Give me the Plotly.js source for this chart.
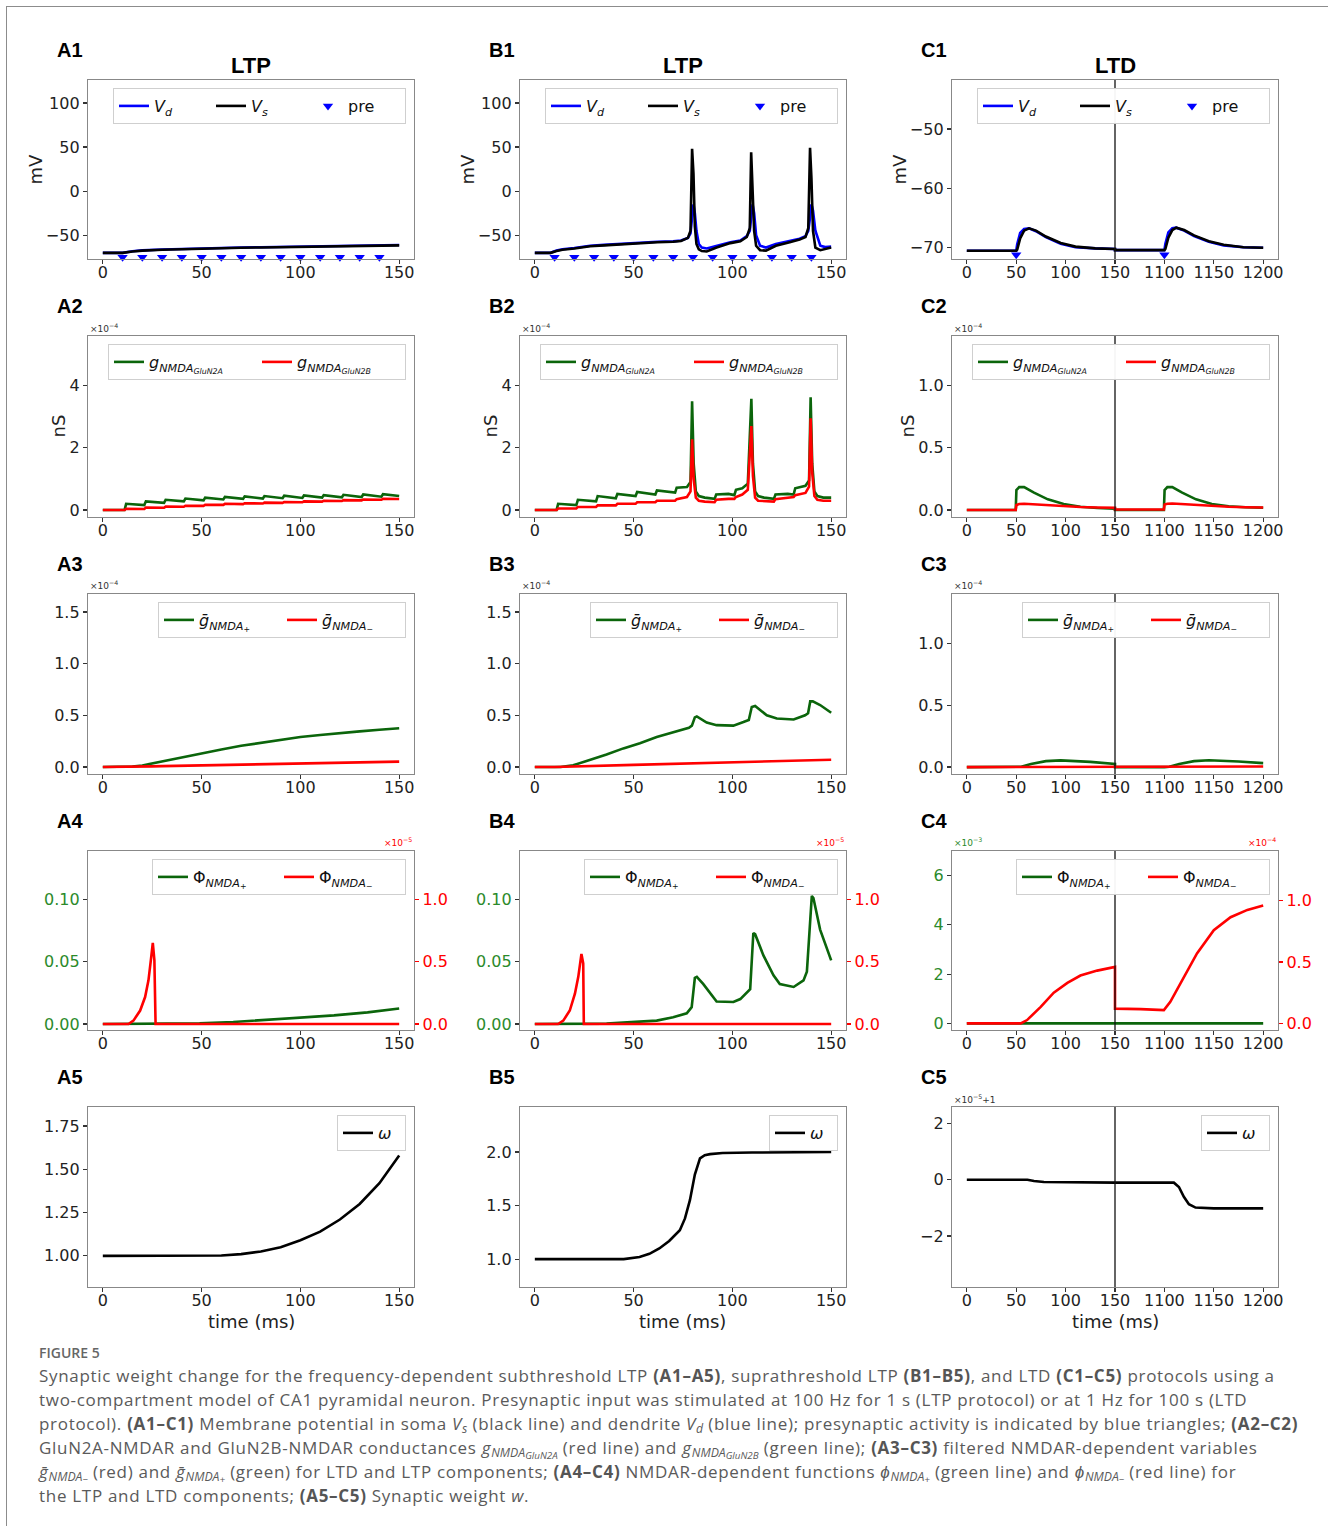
<!DOCTYPE html>
<html><head><meta charset="utf-8">
<script src="https://cdn.plot.ly/plotly-3.0.1.min.js"></script>
<style>
body{margin:0;background:#fff;}
#wrap{position:relative;width:1328px;height:1526px;overflow:hidden;background:#fff;}
#plot{position:absolute;left:0;top:0;width:1328px;height:1526px;}
#frame{position:absolute;left:6px;top:6px;width:1400px;height:1600px;border-top:1.5px solid #8c8c8c;border-left:1.5px solid #8c8c8c;pointer-events:none;}
#cap{position:absolute;left:39px;top:1342px;font-family:'Open Sans',sans-serif;color:#5a5a5a;font-size:17px;letter-spacing:0.7px;line-height:24px;white-space:nowrap;}
#cap .fig{font-size:14px;letter-spacing:0;font-weight:600;color:#666;line-height:22px;}
#cap .ln{height:24px;}
#cap b{font-weight:700;color:#555;}
#cap sub{font-size:72%;vertical-align:-0.22em;line-height:0;letter-spacing:0;}
#cap sub sub{font-size:80%;vertical-align:-0.2em;}
</style></head>
<body>
<div id="wrap">
<div id="plot"></div>
<div id="frame"></div>
<div id="cap">
<div class="fig">FIGURE 5</div>
<div class="ln">Synaptic weight change for the frequency-dependent subthreshold LTP <b>(A1–A5)</b>, suprathreshold LTP <b>(B1–B5)</b>, and LTD <b>(C1–C5)</b> protocols using a</div>
<div class="ln">two-compartment model of CA1 pyramidal neuron. Presynaptic input was stimulated at 100 Hz for 1 s (LTP protocol) or at 1 Hz for 100 s (LTD</div>
<div class="ln">protocol). <b>(A1–C1)</b> Membrane potential in soma <i>V<sub>s</sub></i> (black line) and dendrite <i>V<sub>d</sub></i> (blue line); presynaptic activity is indicated by blue triangles; <b>(A2–C2)</b></div>
<div class="ln">GluN2A-NMDAR and GluN2B-NMDAR conductances <i>g<sub>NMDA<sub>GluN2A</sub></sub></i> (red line) and <i>g<sub>NMDA<sub>GluN2B</sub></sub></i> (green line); <b>(A3–C3)</b> filtered NMDAR-dependent variables</div>
<div class="ln"><i>ḡ<sub>NMDA<sub>−</sub></sub></i> (red) and <i>ḡ<sub>NMDA<sub>+</sub></sub></i> (green) for LTD and LTP components; <b>(A4–C4)</b> NMDAR-dependent functions <i>ϕ<sub>NMDA<sub>+</sub></sub></i> (green line) and <i>ϕ<sub>NMDA<sub>−</sub></sub></i> (red line) for</div>
<div class="ln">the LTP and LTD components; <b>(A5–C5)</b> Synaptic weight <i>w</i>.</div>
</div>
</div>
<script>
// ---------------- DATA ----------------
// Row 1: membrane potentials (mV), time in ms
const tA1  = [0,10,15,20,30,40,50,60,70,80,90,100,110,120,130,140,150];
const VsA1 = [-70,-70,-68.5,-67.5,-66.5,-65.8,-65.2,-64.6,-64.2,-63.9,-63.6,-63.3,-63,-62.7,-62.4,-62,-61.5];
const VdA1 = [-70,-70,-68.2,-67.2,-66.2,-65.5,-64.9,-64.3,-63.9,-63.6,-63.3,-63,-62.7,-62.4,-62.1,-61.7,-61.2];
const preLTP = [10,20,30,40,50,60,70,80,90,100,110,120,130,140];
const preLTPv = -75;

const tB1  = [0,8,11,14,20,28,35,45,55,62,70,74,77.5,78.8,79.6,80.3,81,81.8,83,84.5,87,92,99,104,107.3,108.8,109.5,110.2,111,112,114,117,122,129,134,137,138.4,139.3,140,140.8,142,144.5,147,150];
const VsB1 = [-70,-70,-68,-66.5,-65,-62.5,-61.5,-60,-59,-58,-57.5,-56.5,-53,-45,48,20,-40,-60,-66,-68,-68.5,-64,-59,-57,-52,-42,44,10,-45,-62,-67,-67.5,-62,-58,-55,-52,-42,49,15,-45,-64,-67,-65.5,-64];
const VdB1 = [-70,-70,-67.5,-66,-64.5,-62,-61,-59.5,-58.5,-57.5,-57,-56,-53,-48,-30,-15,-25,-45,-60,-64,-65,-62,-58,-56,-51,-45,-25,-15,-25,-50,-62,-64,-60,-57,-54,-51,-45,-30,-15,-22,-45,-62,-63.5,-63];

const tC1  = [0,50,51,54,58,63,70,80,95,110,130,150,1050,1100,1101,1104,1108,1112,1120,1130,1145,1160,1180,1200];
const VsC1 = [-70.6,-70.6,-70.4,-68.5,-67.2,-66.8,-67.2,-68.2,-69.3,-69.9,-70.2,-70.3,-70.5,-70.5,-70.3,-68.4,-67.1,-66.7,-67.1,-68,-69,-69.6,-70,-70.1];
const VdC1 = [-70.6,-70.6,-69.5,-67.6,-66.9,-66.8,-67.3,-68.3,-69.4,-70,-70.2,-70.3,-70.5,-70.5,-69.4,-67.5,-66.8,-66.7,-67.2,-68.1,-69.1,-69.7,-70,-70.1];
const preLTD = [50,1100];
const preLTDv = -71.3;

// Row 2: NMDA conductances (x1e-4 nS)
const tA2   = [0,11,11.8,21,21.8,31,31.8,41,41.8,51,51.8,61,61.8,71,71.8,81,81.8,91,91.8,101,101.8,111,111.8,121,121.8,131,131.8,141,141.8,150];
const gA_A2 = [0,0,0.2,0.16,0.28,0.23,0.33,0.28,0.37,0.31,0.4,0.34,0.42,0.36,0.44,0.37,0.45,0.38,0.46,0.39,0.47,0.4,0.48,0.41,0.49,0.42,0.5,0.43,0.51,0.45];
const gB_A2 = [0,0,0.04,0.035,0.08,0.075,0.11,0.105,0.14,0.135,0.17,0.165,0.2,0.19,0.22,0.21,0.24,0.23,0.26,0.25,0.28,0.27,0.3,0.29,0.32,0.31,0.34,0.33,0.36,0.355];

const tB2   = [0,11,11.8,21,21.8,31,31.8,41,41.8,51,51.8,61,61.8,71,71.8,77,78.8,79.6,80.4,81.5,83,86,91,91.8,98,101,101.8,105,107.8,109.6,110.4,111.5,113,116,121,121.8,128,131,131.8,137,138.8,139.6,140.4,141.5,143,146,150];
const gA_B2 = [0,0,0.2,0.16,0.33,0.28,0.45,0.38,0.52,0.45,0.58,0.5,0.63,0.56,0.72,0.74,0.9,3.5,1.5,0.6,0.45,0.4,0.36,0.5,0.52,0.48,0.65,0.7,0.85,3.58,1.5,0.6,0.45,0.4,0.36,0.5,0.52,0.5,0.7,0.78,0.95,3.63,1.5,0.6,0.45,0.4,0.4];
const gB_B2 = [0,0,0.05,0.05,0.1,0.1,0.15,0.15,0.2,0.2,0.25,0.25,0.3,0.3,0.35,0.42,0.6,2.28,1.0,0.4,0.3,0.27,0.25,0.33,0.36,0.36,0.42,0.5,0.65,2.7,1.1,0.4,0.3,0.28,0.27,0.35,0.4,0.42,0.48,0.55,0.75,2.95,1.2,0.45,0.33,0.3,0.3];

const tC2   = [0,49.5,50.2,53,58,68,82,98,115,132,150,1050,1099.5,1100.2,1103,1108,1118,1132,1148,1165,1182,1200];
const gA_C2 = [0,0,0.16,0.184,0.184,0.14,0.086,0.049,0.027,0.016,0.011,0,0,0.16,0.184,0.184,0.14,0.086,0.049,0.03,0.022,0.018];
const gB_C2 = [0,0,0.04,0.048,0.05,0.045,0.037,0.03,0.025,0.021,0.018,0.004,0.004,0.044,0.05,0.052,0.047,0.039,0.032,0.027,0.023,0.02];

// Row 3: filtered NMDA variables (x1e-4)
const tA3   = [0,10,15,20,25,30,40,50,60,70,80,90,100,110,120,130,140,150];
const gpA3  = [0,0,0.005,0.015,0.035,0.055,0.095,0.135,0.17,0.205,0.235,0.265,0.29,0.31,0.33,0.345,0.36,0.375];
const gmA3  = [0,0,0.002,0.004,0.006,0.008,0.012,0.016,0.02,0.024,0.028,0.032,0.036,0.04,0.043,0.046,0.049,0.052];

const tB3   = [0,13,19.4,27.9,36.3,44.8,53.2,61.7,70.1,78,79.5,81,82,87,92,100.5,105.6,108.3,109.8,111.5,117.4,122.5,131,136.8,138.3,139.4,140.7,144.4,150];
const gpB3  = [0,0,0.016,0.065,0.12,0.18,0.23,0.29,0.34,0.38,0.4,0.48,0.49,0.43,0.405,0.4,0.435,0.455,0.58,0.59,0.5,0.47,0.46,0.5,0.52,0.635,0.635,0.6,0.525];
const tB3m  = [0,10,50,100,150];
const gmB3  = [0,0,0.02,0.045,0.07];

const tC3   = [0,50,55,65,80,95,110,125,150,1050,1100,1105,1115,1130,1145,1160,1175,1200];
const gpC3  = [0,0,0.003,0.025,0.048,0.054,0.05,0.042,0.025,0,0,0.003,0.025,0.048,0.055,0.052,0.045,0.032];
const gmC3  = [0,0,0,0.002,0.004,0.005,0.005,0.005,0.004,0.001,0.001,0.001,0.003,0.005,0.006,0.006,0.006,0.005];

// Row 4: NMDA-dependent functions (phi+ left axis, phi- right axis x1e-5 / x1e-4)
const tA4g  = [0,15,30,49,66,83,100,117,134,150];
const phpA4 = [0,0,0.0001,0.0005,0.0016,0.0032,0.0053,0.0069,0.0093,0.0125];
const tA4r  = [0,13,15.5,18.9,21.4,23.1,24.3,25.3,26.1,26.7,150];
const phmA4 = [0,0,0.027,0.108,0.216,0.35,0.51,0.65,0.51,0,0];

const tB4g  = [0,20,36.3,53,61.7,70,76.9,79.4,81,82,85.3,92,100.5,104,109,110.6,111.5,115.7,120.8,124,131,136,137.7,140.2,141,144.4,150];
const phpB4 = [0,0,0.0003,0.0019,0.0027,0.0054,0.0086,0.0135,0.037,0.0378,0.032,0.018,0.0176,0.02,0.028,0.073,0.072,0.055,0.039,0.032,0.0297,0.035,0.042,0.1027,0.101,0.0757,0.051];
const tB4r  = [0,11.8,14.4,17.7,20.3,22,23.6,24.5,24.8,150];
const phmB4 = [0,0,0.027,0.108,0.243,0.378,0.562,0.486,0,0];

const tC4g  = [0,150,1050,1200];
const phpC4 = [0,0,0,0];
const tC4r  = [0,54.6,61,74.8,88,101.8,115,132,150,1050,1076,1099.5,1106,1116,1133,1150,1167,1184,1200];
const phmC4 = [0,0,0.027,0.135,0.25,0.33,0.39,0.43,0.46,0.12,0.116,0.108,0.176,0.32,0.57,0.76,0.865,0.925,0.96];

// Row 5: synaptic weight
const tA5 = [0,50,60,70,80,90,100,110,120,130,140,150];
const wA5 = [1,1,1.002,1.01,1.025,1.05,1.09,1.14,1.21,1.3,1.42,1.58];
const tB5 = [0,45,53,58,63,68,73.4,76,78.5,81,83.6,86,88.7,95,110,150];
const wB5 = [1,1,1.02,1.05,1.1,1.17,1.27,1.38,1.55,1.79,1.94,1.97,1.98,1.99,1.995,2.0];
const tC5 = [0,61.3,68,78,150,1050,1109.6,1114.7,1119.7,1124.8,1131.5,1150,1200];
const wC5 = [0,0,-0.047,-0.082,-0.106,-0.106,-0.106,-0.26,-0.61,-0.87,-0.99,-1.02,-1.02]; // (w-1) x1e5

// tick labels
const ltpTicks = [0,50,100,150];
const ltdTickPos = [0,50,100,150,200,250,300];
const ltdTickText = ['0','50','100','150','1100','1150','1200'];

// ---------------- LAYOUT HELPERS ----------------
const W=1328,H=1526;
const colX=[[88,414],[520,846],[952,1278]];
const rowY=[[80,259],[336,517],[594,774],[851,1030],[1107,1287]];
const GREEN='#0b650b', GREENTXT='#2b8a2b', RED='#ff0000', BLUE='#0000ff';
const AXC='#888888', TXT='#222222';
const FONT='DejaVu Sans, sans-serif';
// LTD protocol: second train (1050-1200 ms) is drawn right after the break at 150
const ltdPos = t => t.map(v => v >= 1000 ? v - 900 : v);

const traces=[];
function ln(x,y,i,color,name,showleg,yax){
  traces.push({type:'scatter',mode:'lines',x:x,y:y,xaxis:'x'+i,yaxis:yax||('y'+i),
    line:{color:color,width:2.6},name:name,showlegend:showleg,legend:i===1?'legend':'legend'+i});
}
function pre(x,yv,i){
  traces.push({type:'scatter',mode:'markers',x:x,y:x.map(()=>yv),xaxis:'x'+i,yaxis:'y'+i,
    marker:{symbol:'triangle-down',size:9,color:BLUE},cliponaxis:false,name:'pre',showlegend:true,
    legend:i===1?'legend':'legend'+i});
}

const Vd='<i>V</i><sub><i>d</i></sub>', Vs='<i>V</i><sub><i>s</i></sub>';
const g2A='<i>g</i><sub><i>NMDA</i><sub><i>GluN2A</i></sub></sub>';
const g2B='<i>g</i><sub><i>NMDA</i><sub><i>GluN2B</i></sub></sub>';
const gp='<i>ḡ</i><sub><i>NMDA</i><sub>+</sub></sub>', gm='<i>ḡ</i><sub><i>NMDA</i><sub>−</sub></sub>';
const pp='Φ<sub><i>NMDA</i><sub>+</sub></sub>', pm='Φ<sub><i>NMDA</i><sub>−</sub></sub>';

// Row 1
ln(tA1,VdA1,1,BLUE,Vd,true); ln(tA1,VsA1,1,'#000',Vs,true); pre(preLTP,preLTPv,1);
ln(tB1,VdB1,2,BLUE,Vd,true); ln(tB1,VsB1,2,'#000',Vs,true); pre(preLTP,preLTPv,2);
ln(ltdPos(tC1),VdC1,3,BLUE,Vd,true); ln(ltdPos(tC1),VsC1,3,'#000',Vs,true); pre(ltdPos(preLTD),preLTDv,3);
// Row 2
ln(tA2,gA_A2,4,GREEN,g2A,true); ln(tA2,gB_A2,4,RED,g2B,true);
ln(tB2,gA_B2,5,GREEN,g2A,true); ln(tB2,gB_B2,5,RED,g2B,true);
ln(ltdPos(tC2),gA_C2,6,GREEN,g2A,true); ln(ltdPos(tC2),gB_C2,6,RED,g2B,true);
// Row 3
ln(tA3,gpA3,7,GREEN,gp,true); ln(tA3,gmA3,7,RED,gm,true);
ln(tB3,gpB3,8,GREEN,gp,true); ln(tB3m,gmB3,8,RED,gm,true);
ln(ltdPos(tC3),gpC3,9,GREEN,gp,true); ln(ltdPos(tC3),gmC3,9,RED,gm,true);
// Row 4
ln(tA4g,phpA4,10,GREEN,pp,true); ln(tA4r,phmA4,10,RED,pm,true,'y16');
ln(tB4g,phpB4,11,GREEN,pp,true); ln(tB4r,phmB4,11,RED,pm,true,'y17');
ln(ltdPos(tC4g),phpC4,12,GREEN,pp,true); ln(ltdPos(tC4r),phmC4,12,RED,pm,true,'y18');
// Row 5
ln(tA5,wA5,13,'#000','<i>ω</i>',true);
ln(tB5,wB5,14,'#000','<i>ω</i>',true);
ln(ltdPos(tC5),wC5,15,'#000','<i>ω</i>',true);

const yCfg={
 1:{range:[-77,126],tickvals:[-50,0,50,100]},
 2:{range:[-77,126],tickvals:[-50,0,50,100]},
 3:{range:[-72,-41.7],tickvals:[-70,-60,-50]},
 4:{range:[-0.224,5.6],tickvals:[0,2,4]},
 5:{range:[-0.224,5.6],tickvals:[0,2,4]},
 6:{range:[-0.056,1.4],tickvals:[0,0.5,1],tickformat:'.1f'},
 7:{range:[-0.068,1.675],tickvals:[0,0.5,1,1.5],tickformat:'.1f'},
 8:{range:[-0.068,1.675],tickvals:[0,0.5,1,1.5],tickformat:'.1f'},
 9:{range:[-0.056,1.4],tickvals:[0,0.5,1],tickformat:'.1f'},
 10:{range:[-0.0048,0.1387],tickvals:[0,0.05,0.1],tickformat:'.2f',green:true},
 11:{range:[-0.0048,0.1387],tickvals:[0,0.05,0.1],tickformat:'.2f',green:true},
 12:{range:[-0.27,7.0],tickvals:[0,2,4,6],green:true},
 13:{range:[0.82,1.86],tickvals:[1,1.25,1.5,1.75],tickformat:'.2f'},
 14:{range:[0.74,2.42],tickvals:[1,1.5,2],tickformat:'.1f'},
 15:{range:[-3.81,2.58],tickvals:[-2,0,2]}
};
const entryW=[52,103,78,81,22];

const layout={width:W,height:H,margin:{l:0,r:0,t:0,b:0,autoexpand:false},paper_bgcolor:'rgba(0,0,0,0)',plot_bgcolor:'#fff',
  font:{family:FONT,size:16,color:TXT},showlegend:true,hovermode:false,annotations:[],shapes:[]};

for(let r=0;r<5;r++){
  for(let c=0;c<3;c++){
    const i=r*3+c+1;
    const xd=[colX[c][0]/W,colX[c][1]/W], yd=[1-rowY[r][1]/H,1-rowY[r][0]/H];
    const ax={showline:true,linecolor:AXC,linewidth:1.2,mirror:true,ticks:'outside',ticklen:4,tickwidth:1.2,
      tickcolor:'#333',showgrid:false,zeroline:false,tickfont:{family:FONT,size:16,color:TXT},fixedrange:true,automargin:false};
    layout['xaxis'+i]=Object.assign({},ax,{domain:xd,anchor:'y'+i,ticklabelstandoff:-5,
      range:c<2?[-7.5,157.5]:[-15,315],tickmode:'array',
      tickvals:c<2?ltpTicks:ltdTickPos,ticktext:c<2?ltpTicks.map(String):ltdTickText});
    const yc=yCfg[i];
    const yax=Object.assign({},ax,{domain:yd,anchor:'x'+i,range:yc.range,tickmode:'array',tickvals:yc.tickvals});
    if(yc.tickformat) yax.tickformat=yc.tickformat;
    if(yc.green) yax.tickfont={family:FONT,size:16,color:GREENTXT};
    layout['yaxis'+i]=yax;
    // legend
    const lk=i===1?'legend':'legend'+i;
    layout[lk]={x:(colX[c][1]-8)/W,y:1-(rowY[r][0]+8)/H,xanchor:'right',yanchor:'top',orientation:'h',
      entrywidth:entryW[r],entrywidthmode:'pixels',itemwidth:30,bgcolor:'rgba(255,255,255,0.95)',
      bordercolor:'#cfcfcf',borderwidth:1,font:{family:FONT,size:16,color:'#111'},xref:'paper',yref:'paper'};
    // panel label
    layout.annotations.push({text:'<b>'+'ABC'[c]+(r+1)+'</b>',xref:'paper',yref:'paper',
      x:(colX[c][0]-33)/W,y:1-(rowY[r][0]-30)/H,xanchor:'left',yanchor:'middle',showarrow:false,
      font:{family:'Liberation Sans, Arial, sans-serif',size:20,color:'#000'}});
    // vertical break line in LTD column
    if(c===2){
      layout.shapes.push({type:'line',xref:'x'+i,yref:'y'+i+' domain',x0:150,x1:150,y0:0,y1:1,
        line:{color:'#111',width:1.3}});
    }
  }
}
// right-hand axes of row 4
const rCfg={16:[10,[-0.048,1.387]],17:[11,[-0.048,1.387]],18:[12,[-0.054,1.405]]};
for(const k in rCfg){
  const [i,rg]=rCfg[k];
  layout['yaxis'+k]={overlaying:'y'+i,side:'right',anchor:'x'+i,range:rg,tickmode:'array',tickvals:[0,0.5,1],
    tickformat:'.1f',showline:true,linecolor:AXC,linewidth:1.2,ticks:'outside',ticklen:4,tickwidth:1.2,
    tickcolor:RED,showgrid:false,zeroline:false,tickfont:{family:FONT,size:16,color:RED},fixedrange:true,automargin:false};
}

// column titles
[['LTP',0],['LTP',1],['LTD',2]].forEach(([t,c])=>{
  layout.annotations.push({text:'<b>'+t+'</b>',xref:'paper',yref:'paper',x:(colX[c][0]+colX[c][1])/2/W,
    y:1-65/H,xanchor:'center',yanchor:'middle',showarrow:false,font:{family:'Liberation Sans, Arial, sans-serif',size:22,color:'#000'}});
});
// y-axis titles
function ytitle(t,xpx,r){
  layout.annotations.push({text:t,xref:'paper',yref:'paper',x:xpx/W,y:1-(rowY[r][0]+rowY[r][1])/2/H,
    xanchor:'center',yanchor:'middle',textangle:-90,showarrow:false,font:{family:FONT,size:18,color:TXT}});
}
ytitle('mV',35,0); ytitle('mV',467,0); ytitle('mV',899,0);
ytitle('nS',58,1); ytitle('nS',490,1); ytitle('nS',907,1);
// x-axis titles
[0,1,2].forEach(c=>{
  layout.annotations.push({text:'time (ms)',xref:'paper',yref:'paper',x:(colX[c][0]+colX[c][1])/2/W,y:1-1321/H,
    xanchor:'center',yanchor:'middle',showarrow:false,font:{family:FONT,size:18,color:TXT}});
});
// offset / exponent labels
function expo(t,xpx,ypx,anchor,color){
  layout.annotations.push({text:t,xref:'paper',yref:'paper',x:xpx/W,y:1-ypx/H,xanchor:anchor,yanchor:'middle',
    showarrow:false,font:{family:FONT,size:9,color:color}});
}
[0,1,2].forEach(c=>{ expo('×10<sup>−4</sup>',colX[c][0],328,'left','#333'); expo('×10<sup>−4</sup>',colX[c][0],585,'left','#333'); });
expo('×10<sup>−5</sup>',colX[0][1],842,'right',RED);
expo('×10<sup>−5</sup>',colX[1][1],842,'right',RED);
expo('×10<sup>−3</sup>',colX[2][0],842,'left',GREENTXT);
expo('×10<sup>−4</sup>',colX[2][1],842,'right',RED);
expo('×10<sup>−5</sup>+1',colX[2][0],1099,'left','#333');

Plotly.newPlot('plot',traces,layout,{staticPlot:true,displayModeBar:false});
</script>
</body></html>
